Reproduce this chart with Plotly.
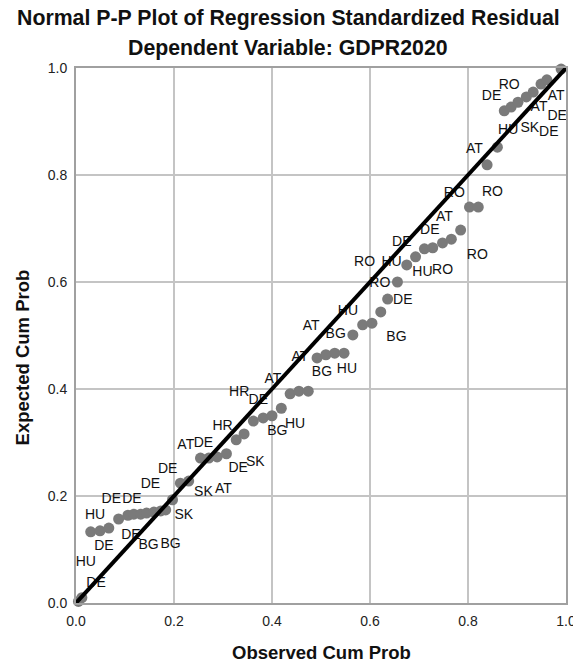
import plotly.graph_objects as go

# Observed vs expected cumulative probabilities
observed = [0.005, 0.012, 0.030, 0.049, 0.067, 0.087, 0.106, 0.118, 0.132, 0.144,
            0.159, 0.173, 0.183, 0.197, 0.213, 0.230, 0.254, 0.271, 0.288, 0.307,
            0.327, 0.343, 0.362, 0.382, 0.400, 0.419, 0.437, 0.455, 0.474, 0.492,
            0.510, 0.528, 0.547, 0.565, 0.585, 0.604, 0.622, 0.636, 0.656, 0.675,
            0.693, 0.711, 0.728, 0.748, 0.766, 0.785, 0.803, 0.821, 0.839, 0.860,
            0.874, 0.888, 0.902, 0.919, 0.933, 0.949, 0.961, 0.990]
expected = [0.003, 0.010, 0.133, 0.135, 0.140, 0.157, 0.164, 0.166, 0.166, 0.168,
            0.170, 0.172, 0.174, 0.193, 0.224, 0.228, 0.271, 0.271, 0.273, 0.279,
            0.305, 0.316, 0.340, 0.346, 0.350, 0.364, 0.391, 0.396, 0.396, 0.458,
            0.464, 0.467, 0.467, 0.501, 0.520, 0.523, 0.544, 0.568, 0.600, 0.632,
            0.647, 0.662, 0.664, 0.673, 0.680, 0.697, 0.740, 0.740, 0.819, 0.852,
            0.920, 0.927, 0.936, 0.946, 0.955, 0.970, 0.978, 0.998]

# Case labels (country codes) and where they sit in data coordinates
label_text = ["DE", "HU", "DE", "HU", "DE", "DE", "DE", "DE", "DE", "BG", "BG", "SK",
              "SK", "AT", "AT", "DE", "DE", "SK", "HR", "HR", "DE", "AT", "BG", "HU",
              "AT", "AT", "BG", "HU", "BG", "HU", "BG", "DE", "RO", "RO", "HU", "DE",
              "HU", "RO", "DE", "AT", "RO", "RO", "RO", "AT", "DE", "RO", "AT", "AT",
              "DE", "HU", "SK", "DE"]
label_x = [0.041, 0.020, 0.057, 0.039, 0.072, 0.114, 0.152, 0.187, 0.112, 0.148, 0.193, 0.220,
           0.260, 0.301, 0.224, 0.260, 0.331, 0.366, 0.299, 0.333, 0.372, 0.402, 0.411, 0.447,
           0.457, 0.480, 0.530, 0.555, 0.502, 0.553, 0.654, 0.667, 0.620, 0.589, 0.644, 0.665,
           0.707, 0.748, 0.722, 0.752, 0.772, 0.850, 0.819, 0.813, 0.848, 0.884, 0.980, 0.945,
           0.982, 0.882, 0.926, 0.965]
label_y = [0.037, 0.075, 0.105, 0.163, 0.193, 0.193, 0.221, 0.250, 0.127, 0.108, 0.110, 0.164,
           0.206, 0.213, 0.295, 0.299, 0.252, 0.262, 0.329, 0.393, 0.378, 0.417, 0.320, 0.333,
           0.458, 0.516, 0.501, 0.544, 0.430, 0.437, 0.497, 0.566, 0.598, 0.636, 0.636, 0.673,
           0.617, 0.622, 0.697, 0.721, 0.766, 0.768, 0.650, 0.847, 0.946, 0.968, 0.946, 0.927,
           0.910, 0.884, 0.886, 0.879]

ref_line = [0.0, 1.0]
tick_vals = [0.0, 0.2, 0.4, 0.6, 0.8, 1.0]
tick_text = ["0.0", "0.2", "0.4", "0.6", "0.8", "1.0"]

FONT = "Liberation Sans, Arial, Helvetica, sans-serif"

fig = go.Figure()
fig.add_trace(go.Scatter(
    x=label_x, y=label_y, text=label_text, mode="text",
    textfont=dict(family=FONT, size=14, color="#111111"),
    textposition="middle center", hoverinfo="skip", showlegend=False, cliponaxis=False))
fig.add_trace(go.Scatter(
    x=observed, y=expected, mode="markers",
    marker=dict(size=11, color="#7a7a7a", line=dict(width=0)),
    showlegend=False, cliponaxis=False))
fig.add_trace(go.Scatter(
    x=ref_line, y=ref_line, mode="lines",
    line=dict(color="#000000", width=4), showlegend=False, cliponaxis=False))

axis_common = dict(
    range=[0, 1], tickvals=tick_vals, ticktext=tick_text,
    showgrid=True, gridcolor="#c4c4c4", gridwidth=2,
    showline=True, linecolor="#a0a0a0", linewidth=2, mirror=True,
    zeroline=False, ticks="", tickfont=dict(family=FONT, size=14, color="#222222"),
    ticklabeloverflow="allow",
)
fig.update_xaxes(**axis_common, ticklabelstandoff=4)
fig.update_yaxes(**axis_common, ticklabelstandoff=4)

fig.update_layout(
    width=585, height=669,
    margin=dict(l=76, r=9, t=68, b=66),
    paper_bgcolor="white", plot_bgcolor="white",
    font=dict(family=FONT),
    annotations=[
        dict(text="<b>Normal P-P Plot of Regression Standardized Residual</b>",
             xref="paper", yref="paper", x=0.433, y=1, yshift=50,
             xanchor="center", yanchor="middle", showarrow=False,
             font=dict(family=FONT, size=21.3, color="#111111")),
        dict(text="<b>Dependent Variable: GDPR2020</b>",
             xref="paper", yref="paper", x=0.433, y=1, yshift=20,
             xanchor="center", yanchor="middle", showarrow=False,
             font=dict(family=FONT, size=21.3, color="#111111")),
        dict(text="<b>Observed Cum Prob</b>",
             xref="paper", yref="paper", x=0.5, y=0, yshift=-49,
             xanchor="center", yanchor="middle", showarrow=False,
             font=dict(family=FONT, size=18.5, color="#111111")),
        dict(text="<b>Expected Cum Prob</b>",
             xref="paper", yref="paper", x=0, y=0.459, xshift=-54, textangle=-90,
             xanchor="center", yanchor="middle", showarrow=False,
             font=dict(family=FONT, size=18.5, color="#111111")),
    ],
)

fig.write_html("out.html", config={"displayModeBar": False},
               post_script="document.body.style.margin='0';document.body.style.overflow='hidden';")
